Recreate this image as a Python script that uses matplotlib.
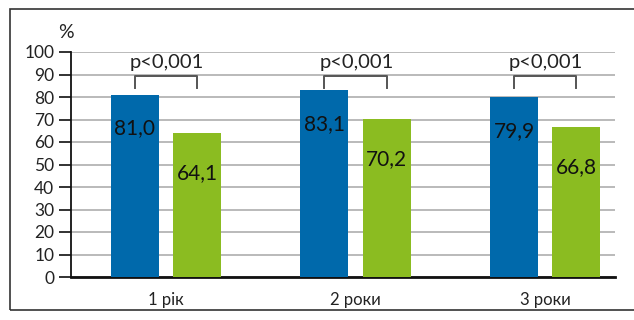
import matplotlib
matplotlib.use("Agg")
import matplotlib.pyplot as plt
from matplotlib.patches import Rectangle
import numpy as np

categories = ["1 рік", "2 роки", "3 роки"]
blue_vals = [81.0, 83.1, 79.9]
green_vals = [64.1, 70.2, 66.8]
blue_labels = ["81,0", "83,1", "79,9"]
green_labels = ["64,1", "70,2", "66,8"]
p_labels = ["p<0,001", "p<0,001", "p<0,001"]
yticks = [0, 10, 20, 30, 40, 50, 60, 70, 80, 90, 100]

BLUE = "#0069AB"
GREEN = "#8BBC21"
FONT = "Lato"

W, H = 634, 320
fig = plt.figure(figsize=(W / 100, H / 100), dpi=100)
ax = fig.add_axes([71 / W, 1 - 277 / H, (615 - 71) / W, (277 - 52) / H])

x = np.arange(len(categories))
bw = 0.253
off = 0.164
ax.bar(x - off, blue_vals, bw, color=BLUE, zorder=3)
ax.bar(x + off, green_vals, bw, color=GREEN, zorder=3)

ax.set_ylim(0, 100)
ax.set_xlim(-0.501, 2.369)
ax.set_yticks(yticks)
ax.set_yticklabels([str(t) for t in yticks], fontsize=12.5, family=FONT, color="#222222")
ax.set_xticks(x)
ax.set_xticklabels(categories, fontsize=12, family=FONT, color="#222222")
ax.tick_params(axis="x", length=0, pad=11)
ax.tick_params(axis="y", length=9, width=1.3, color="#222222", pad=3)
ax.yaxis.grid(True, color="#b4b4b4", linewidth=1.3, zorder=0)
ax.set_axisbelow(True)
for s in ["top", "right"]:
    ax.spines[s].set_visible(False)
ax.spines["left"].set_linewidth(1.3)
ax.spines["left"].set_color("#111111")
ax.spines["bottom"].set_linewidth(2)
ax.spines["bottom"].set_color("#111111")

for i in range(len(categories)):
    ax.text(x[i] - off, blue_vals[i] - 15, blue_labels[i], ha="center", va="center",
            fontsize=15, family=FONT, color="#111111", zorder=4)
    ax.text(x[i] + off, green_vals[i] - 18, green_labels[i], ha="center", va="center",
            fontsize=15, family=FONT, color="#111111", zorder=4)
    # bracket
    x0, x1 = x[i] - off, x[i] + off
    ax.plot([x0, x0, x1, x1], [84, 89.5, 89.5, 84], color="#555555", lw=1.4, zorder=4,
            clip_on=False)
    ax.text(x[i] + 0.005, 91.6, p_labels[i], ha="center", va="bottom", fontsize=14.5,
            family=FONT, color="#222222", zorder=4)

fig.text(66 / W, 1 - 33 / H, "%", ha="center", va="center", fontsize=14, family=FONT,
         color="#222222")

# outer frame
fig.patches.append(Rectangle((10 / W, 1 - 310 / H), 1.0, (310 - 9) / H,
                             transform=fig.transFigure, fill=False,
                             edgecolor="#333333", lw=1.2))

fig.savefig("out.png", dpi=100)
